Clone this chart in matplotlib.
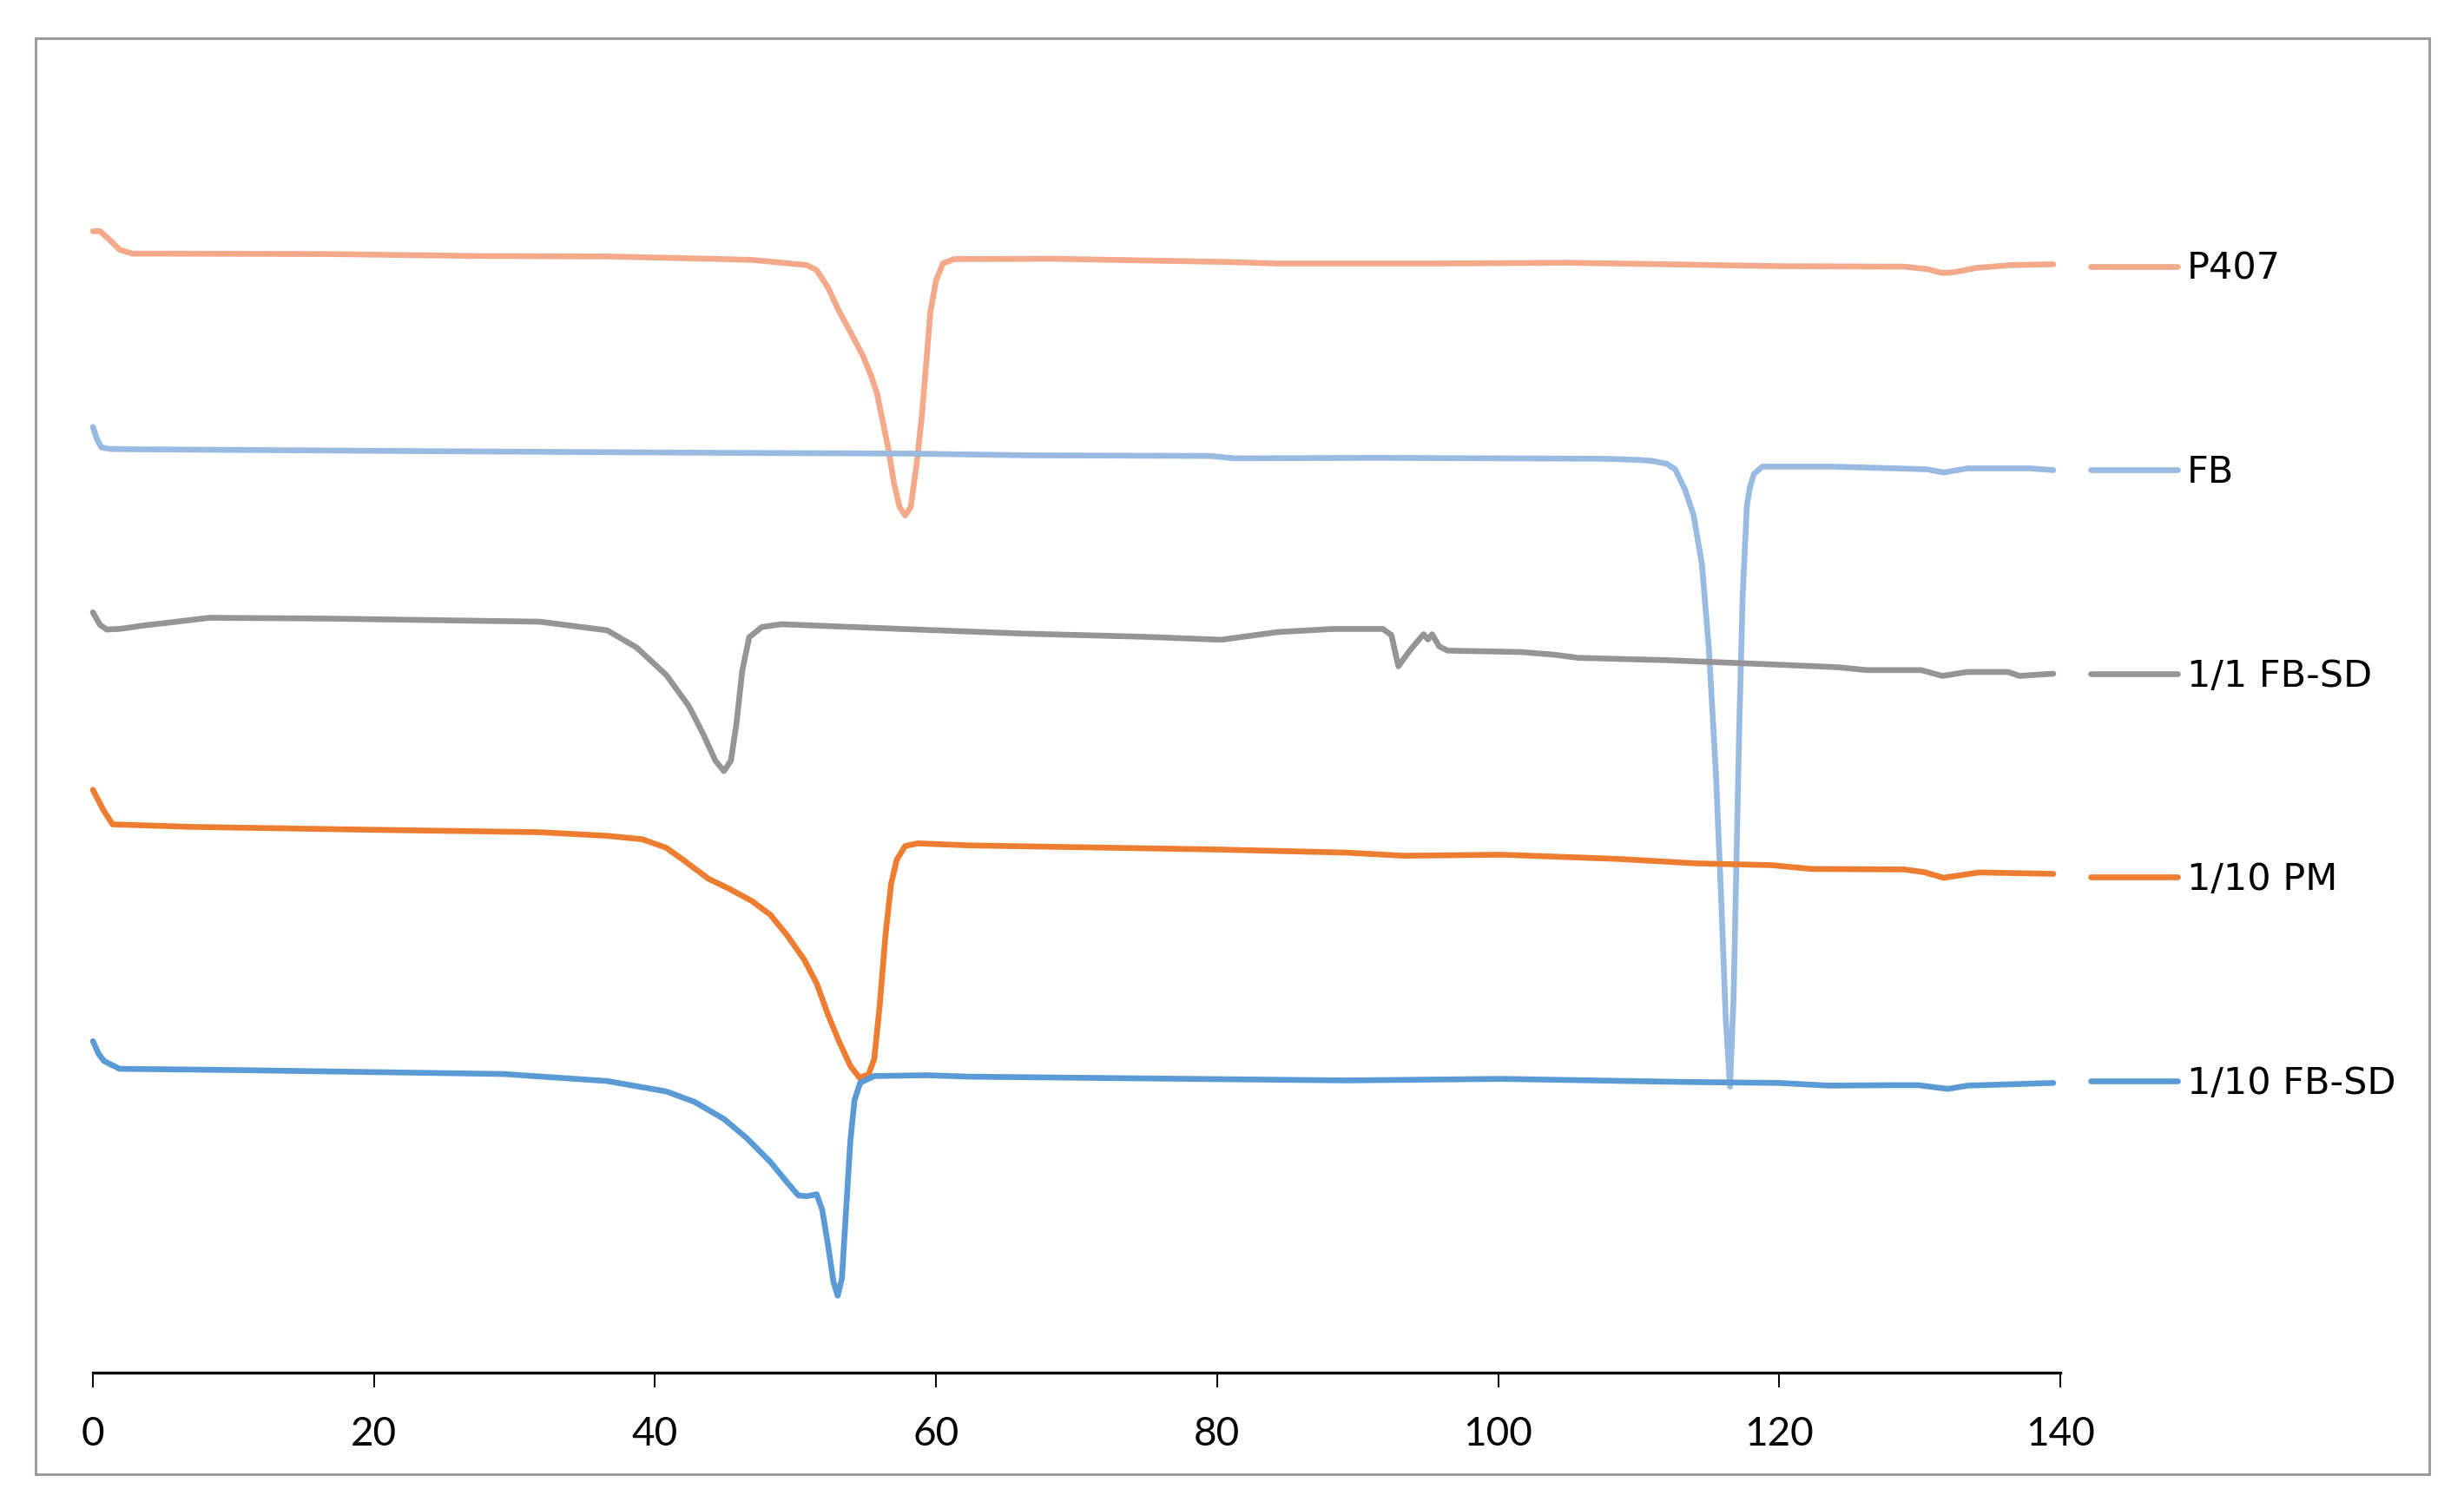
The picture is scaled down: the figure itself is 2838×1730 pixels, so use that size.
import matplotlib
matplotlib.use("Agg")
import matplotlib.pyplot as plt
from matplotlib.patches import Rectangle

# ---------------- data (temperature in °C, heat-flow signal in arbitrary, offset units) -------------
labels = ["P407", "FB", "1/1 FB-SD", "1/10 PM", "1/10 FB-SD"]
colors = ["#F4A98A", "#99BBE1", "#959595", "#ED7D31", "#5B9BD5"]

t_p407 = [0, 0.5, 1.2, 1.9, 2.8, 10, 17, 27, 36.6, 44, 46.9, 50.8, 51.5, 52.3, 53.1, 53.9, 54.8,
          55.4, 55.8, 56.2, 56.6, 57.0, 57.4, 57.8, 58.2, 58.6, 59.0, 59.3, 59.6, 60.0, 60.5, 61.3,
          68.4, 80.7, 84.3, 95.3, 105, 112, 120, 128.9, 130.5, 131.6, 132.5, 134, 136.5, 139.5]
v_p407 = [726.5, 726.6, 721, 714.8, 712.3, 712.2, 712, 710.8, 710.5, 709, 708.3, 705, 701.8,
          690.9, 675.6, 662.5, 647.2, 634, 623.1, 605.7, 588.3, 566.4, 551.1, 545.6, 551.1, 577.2,
          610.1, 642.8, 675.6, 695.2, 706.2, 708.8, 709, 707, 706, 706, 706.5, 705.5, 704.3, 704,
          702.5, 700, 700.5, 703.2, 705, 705.5]

t_fb = [0, 0.3, 0.6, 1.2, 2.3, 23, 44.8, 58.3, 66.5, 79.5, 81.2, 91.4, 100, 107.7, 110, 111,
        112, 112.6, 113.3, 113.9, 114.5, 115, 115.5, 115.9, 116.2, 116.5, 116.75, 116.95, 117.15,
        117.4, 117.7, 117.9, 118.2, 118.8, 123.8, 128.3, 130.5, 131.7, 133.4, 137.8, 139.5]
v_fb = [602, 594, 589, 588, 587.8, 586.6, 585.5, 585, 583.9, 583.5, 582, 582.3, 582, 581.7, 581,
        580.3, 578.5, 575, 562, 546, 514.5, 460, 380.5, 295, 224, 182, 238, 323, 409, 495, 552,
        563, 572, 576.7, 576.7, 575.6, 575, 573, 575.6, 575.6, 574.5]

t_sd11 = [0, 0.5, 1, 2, 3.6, 5, 8.3, 16.6, 31.8, 36.6, 38.7, 40.8, 42.4, 43.4, 44.3, 44.9, 45.4,
          45.8, 46.2, 46.7, 47.6, 49.0, 57.2, 66.3, 74.8, 80.3, 84.3, 88.3, 91.8, 92.4, 92.9, 93.7,
          94.4, 94.7, 95, 95.3, 95.8, 96.4, 101.6, 104, 105.7, 112, 119.5, 124.2, 126.2, 130.1,
          131.6, 133.4, 136.3, 137.1, 139.5]
v_sd11 = [484, 476, 473, 473.5, 475.6, 477, 480.5, 480, 478, 472.5, 461.5, 444.1, 424.4, 407,
          389.5, 382.9, 389.5, 413.5, 446.3, 468.1, 474.6, 476.4, 473.5, 470.4, 468.4, 466.5,
          471.4, 473.4, 473.4, 469.5, 449.6, 459.5, 467, 470, 466.7, 470, 462.3, 459.6, 458.7,
          457, 455, 453.5, 450.8, 449, 447.2, 447.2, 443.5, 446, 446, 443.5, 444.9]

t_pm = [0, 0.4, 0.8, 1.4, 7, 18.8, 31.8, 36.6, 39.1, 40.8, 42.0, 43.8, 45.3, 46.9, 48.2, 49.4,
        50.6, 51.5, 52.3, 53.1, 53.9, 54.55, 55.2, 55.6, 56.0, 56.4, 56.8, 57.2, 57.8, 58.7,
        62.4, 80, 89.2, 93.3, 100.2, 108.5, 114, 119.5, 122.3, 128.9, 130.3, 131.7, 134.2, 139.5]
v_pm = [371, 364, 357.3, 349, 347.4, 345.7, 344, 341.7, 339.5, 334.1, 326.4, 314.4, 307.9, 300.2,
        291.5, 278.4, 263.1, 247.8, 228.1, 210.7, 195.3, 187.7, 189.9, 199.7, 234.7, 278.4,
        311.1, 326.4, 335.2, 336.9, 335.6, 333, 331, 329, 329.7, 327, 324.2, 323, 320.6, 320.3,
        318.6, 315, 318.4, 317.5]

t_sd110 = [0, 0.4, 0.8, 1.9, 10.1, 29.2, 36.6, 40.8, 42.8, 44.9, 46.5, 48.2, 49.4, 50.2, 50.8,
           51.5, 51.9, 52.3, 52.7, 53.0, 53.3, 53.6, 53.9, 54.2, 54.6, 55.6, 59.3, 62.4, 89.2,
           100.2, 113.4, 120, 123.5, 128.3, 129.9, 132, 133.4, 139.5]
v_sd110 = [211, 203, 198.3, 193.4, 192.6, 190.1, 185.6, 179, 172.4, 161.5, 149.5, 134.2, 121.1,
           112.8, 112.3, 113.5, 103.7, 81.8, 57.8, 49, 60, 103.7, 147.3, 173.5, 184.5, 188.8,
           189.3, 188.4, 186, 187, 185, 184.4, 182.7, 183, 183, 180.6, 182.7, 184.4]

x_ticks = [0, 20, 40, 60, 80, 100, 120, 140]

series_t = [t_p407, t_fb, t_sd11, t_pm, t_sd110]
series_v = [v_p407, v_fb, v_sd11, v_pm, v_sd110]

# ---------------- figure ----------------
W, H, DPI = 2838, 1730, 200
fig = plt.figure(figsize=(W / DPI, H / DPI), dpi=DPI, facecolor="white")

ax_left, ax_right = 107 / W, 2373 / W
ax_bottom, ax_top = 1 - 1581 / H, 1 - 90 / H
ax = fig.add_axes([ax_left, ax_bottom, ax_right - ax_left, ax_top - ax_bottom])

handles = []
for t, v, c, lab in zip(series_t, series_v, colors, labels):
    h, = ax.plot(t, v, color=c, lw=2.4, label=lab, solid_capstyle="round",
                 solid_joinstyle="round", clip_on=False)
    handles.append(h)

ax.set_xlim(0, 140)
ax.set_ylim(0, 824)
ax.set_xticks(x_ticks)
ax.set_xticklabels([str(x) for x in x_ticks], fontfamily="Lato", fontsize=16.5)
ax.set_yticks([])
for s in ["left", "right", "top"]:
    ax.spines[s].set_visible(False)
ax.spines["bottom"].set_linewidth(1.2)
ax.spines["bottom"].set_color("black")
ax.tick_params(axis="x", direction="out", length=6, width=0.7, color="black", pad=12)

leg = fig.legend(handles=handles, labels=labels, loc="upper left",
                 bbox_to_anchor=(2408 / W, 1 - 289 / H), bbox_transform=fig.transFigure,
                 frameon=False, borderpad=0, borderaxespad=0, handlelength=2.33,
                 handletextpad=0.25, labelspacing=4.47,
                 prop={"family": "DejaVu Sans", "size": 15.5})
for line in leg.get_lines():
    line.set_linewidth(2.4)

# outer chart border
fig.add_artist(Rectangle((41 / W, 1 - 1698 / H), (2798 - 41) / W, (1698 - 44) / H,
                         transform=fig.transFigure, fill=False, edgecolor="#9C9C9C", lw=1.1))

fig.savefig("out.png", dpi=DPI, facecolor="white")
